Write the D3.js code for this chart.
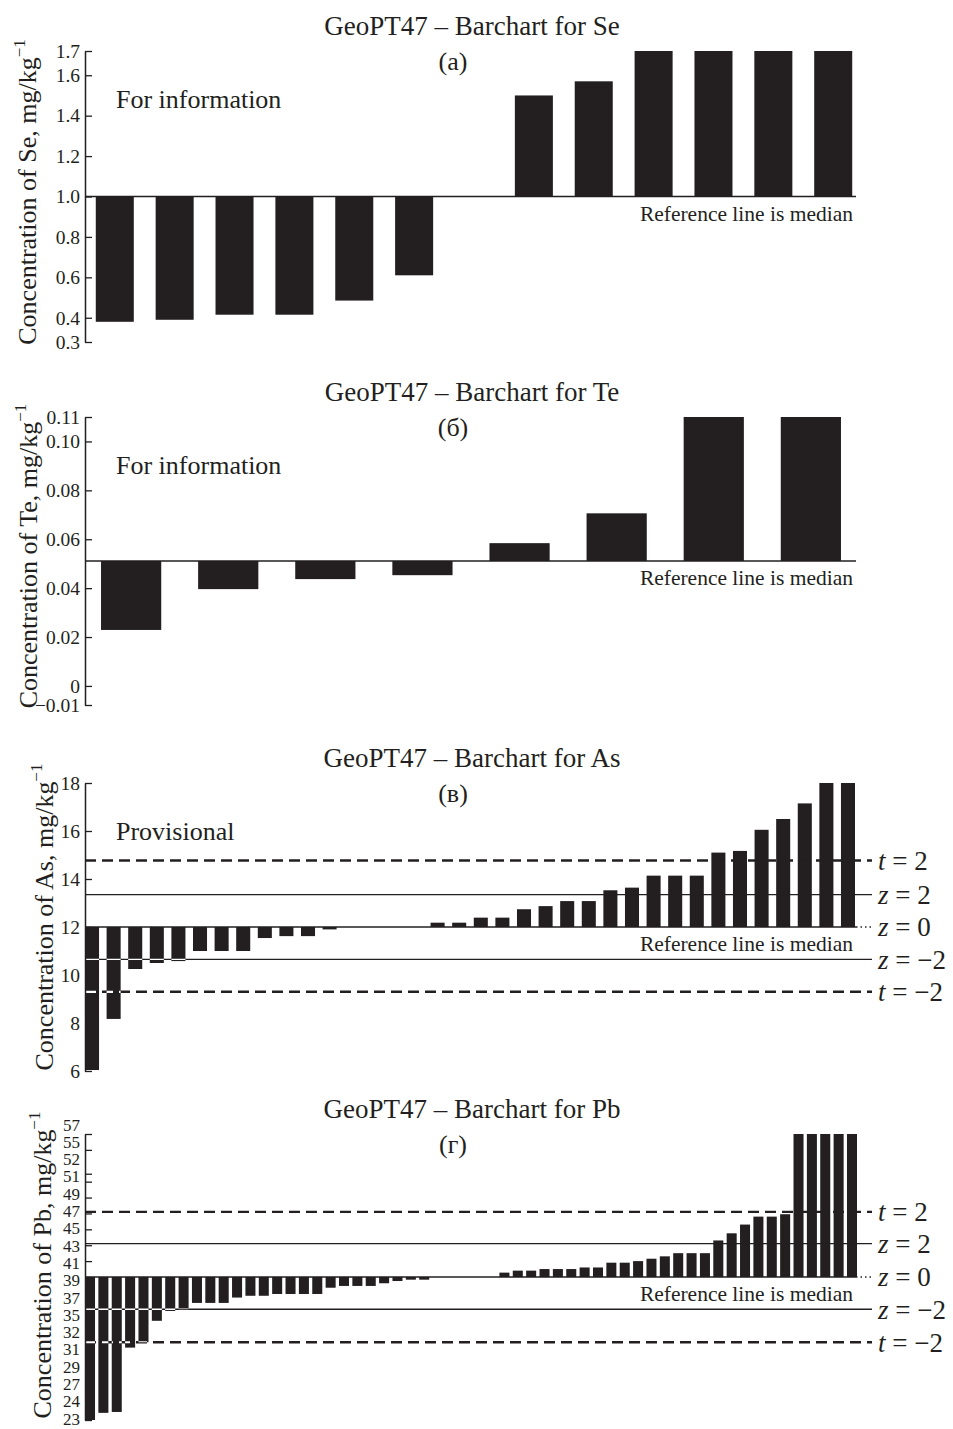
<!DOCTYPE html>
<html>
<head>
<meta charset="utf-8">
<script src="https://cdn.jsdelivr.net/npm/d3@7"></script>
<style>
  html, body { margin: 0; padding: 0; background: #fff; }
  svg { display: block; }
</style>
</head>
<body>
<div class="chart"></div>
<script>
// ---------- data ----------
// Se (a)
const seValues = [0.38, 0.39, 0.415, 0.415, 0.485, 0.61, 1.0, 1.50, 1.57, 1.72, 1.72, 1.72, 1.72];
const seMedian = 1.0;
const seAxis = [0.28, 1.72];
const seTicks = [0.28, 0.4, 0.6, 0.8, 1.0, 1.2, 1.4, 1.6, 1.72];

// Te (б)
const teValues = [0.0229, 0.0396, 0.0437, 0.0453, 0.0584, 0.0706, 0.11, 0.11];
const teMedian = 0.0511;
const teAxis = [-0.0078, 0.11];
const teTicks = [-0.0078, 0, 0.02, 0.04, 0.06, 0.08, 0.10, 0.11];

// As (в)
const asValues = [6.04, 8.17, 10.25, 10.5, 10.58, 11.0, 11.0, 11.0, 11.54, 11.62, 11.62, 11.9,
  12, 12, 12, 12,
  12.18, 12.18, 12.39, 12.39, 12.74, 12.87, 13.08, 13.08, 13.53, 13.64, 14.14, 14.14, 14.14,
  15.1, 15.17, 16.05, 16.5, 17.15, 18, 18];
const asMedian = 12;
const asAxis = [6, 18];
const asTicks = [6, 8, 10, 12, 14, 16, 18];
const asLimits = [14.77, 13.35, 10.65, 9.3];

// Pb (г)
const pbValues = [23.0, 23.8, 23.9, 31.1, 31.7, 34.1, 35.2, 35.4, 36.1, 36.1, 36.1, 36.7, 36.9, 36.9,
  37.1, 37.1, 37.1, 37.1, 37.8, 38.0, 38.0, 38.0, 38.3, 38.55, 38.7, 38.7,
  39, 39, 39, 39, 39,
  39.55, 39.8, 39.8, 40.0, 40.0, 40.0, 40.2, 40.2, 40.8, 40.8, 41.0, 41.3, 41.6, 42.0, 42.0, 42.0,
  43.6, 44.5, 45.6, 46.6, 46.6, 46.9, 57, 57, 57, 57, 57];
const pbMedian = 39;
const pbAxis = [23, 57];
const pbTicks = [57, 55, 52, 51, 49, 47, 45, 43, 41, 39, 37, 35, 32, 31, 29, 27, 24, 23];
const pbLimits = [47.2, 43.2, 35.4, 31.7];

const limitNames = [['t', ' = 2'], ['z', ' = 2'], ['z', ' = \u22122'], ['t', ' = \u22122']];
const limitDashed = [true, false, false, true];

// ---------- drawing ----------
const W = 953, H = 1429;
const ink = '#231f20';
const serif = '"Liberation Serif", "Times New Roman", serif';
const left = 85;

const svg = d3.select('.chart').append('svg').attr('width', W).attr('height', H);
svg.append('rect').attr('width', W).attr('height', H).attr('fill', '#fff');

function drawPanel(p, idx) {
  const g = svg.append('g').attr('font-family', serif).attr('fill', ink);
  const yMid = (p.top + p.bottom) / 2;
  const y = d3.scaleLinear()
    .domain([p.axis[0], p.median, p.axis[1]])
    .range([p.bottom, yMid, p.top])
    .clamp(true);
  const x = d3.scaleBand()
    .domain(d3.range(p.values.length))
    .range([left, p.xEnd])
    .paddingInner(p.padIn)
    .paddingOuter(p.padOut);

  // 제목
  g.append('text')
    .attr('x', 472).attr('y', p.top - 16)
    .attr('text-anchor', 'middle').attr('font-size', 27)
    .text(`GeoPT47 \u2013 Barchart for ${p.el}`);
  g.append('text')
    .attr('x', 453).attr('y', p.top + 19)
    .attr('text-anchor', 'middle').attr('font-size', 26)
    .text(p.sub);
  if (p.note) {
    g.append('text')
      .attr('x', 116).attr('y', p.top + 57)
      .attr('font-size', 26)
      .text(p.note);
  }

  // 막대
  g.append('g').selectAll('rect').data(p.values).join('rect')
    .attr('x', (d, i) => x(i))
    .attr('width', x.bandwidth())
    .attr('y', d => y(Math.max(d, p.median)))
    .attr('height', d => Math.abs(y(d) - y(p.median)))
    .attr('fill', ink);

  // 기준선(중앙값)
  g.append('line')
    .attr('x1', left).attr('x2', 856)
    .attr('y1', y(p.median)).attr('y2', y(p.median))
    .attr('stroke', ink).attr('stroke-width', 1.3);
  g.append('text')
    .attr('x', 853).attr('y', y(p.median) + 24)
    .attr('text-anchor', 'end').attr('font-size', 21.5)
    .text('Reference line is median');

  // z, t 한계선
  if (p.limits) {
    const clipId = `bars-${idx}`;
    svg.append('clipPath').attr('id', clipId)
      .selectAll('rect').data(p.values).join('rect')
      .attr('x', (d, i) => x(i))
      .attr('width', x.bandwidth())
      .attr('y', d => y(Math.max(d, p.median)))
      .attr('height', d => Math.abs(y(d) - y(p.median)));

    g.append('line')
      .attr('x1', 856).attr('x2', 872)
      .attr('y1', y(p.median)).attr('y2', y(p.median))
      .attr('stroke', ink).attr('stroke-width', 1.5)
      .attr('stroke-dasharray', '1.5,3');

    p.limits.forEach((v, i) => {
      g.append('line')
        .attr('x1', left).attr('x2', 872)
        .attr('y1', y(v)).attr('y2', y(v))
        .attr('stroke', ink)
        .attr('stroke-width', limitDashed[i] ? 2.4 : 1.4)
        .attr('stroke-dasharray', limitDashed[i] ? '11,6' : null);
      if (v < p.median) {
        // 음수 막대 위로 지나가는 선은 흰색으로 보임
        g.append('line')
          .attr('clip-path', `url(#${clipId})`)
          .attr('x1', left).attr('x2', 872)
          .attr('y1', y(v)).attr('y2', y(v))
          .attr('stroke', '#fff')
          .attr('stroke-width', limitDashed[i] ? 2.2 : 1.4)
          .attr('stroke-dasharray', limitDashed[i] ? '11,6' : null);
      }
    });
    const labs = [...p.limits, p.median];
    const names = [...limitNames, ['z', ' = 0']];
    labs.forEach((v, i) => {
      const t = g.append('text')
        .attr('x', 878).attr('y', y(v)).attr('dy', '0.35em')
        .attr('font-size', 27);
      t.append('tspan').attr('font-style', 'italic').text(names[i][0]);
      t.append('tspan').text(names[i][1]);
    });
  }

  // y축
  const axis = d3.axisLeft(y)
    .tickValues(p.ticks)
    .tickSize(-7)
    .tickSizeOuter(0)
    .tickPadding(5)
    .tickFormat(p.pointLabels ? '' : p.fmt);
  const ax = g.append('g')
    .attr('transform', `translate(${left},0)`)
    .call(axis)
    .attr('font-family', serif)
    .attr('font-size', 19.5);
  ax.select('.domain').attr('stroke', ink).attr('stroke-width', 1.5);
  ax.selectAll('.tick line').attr('stroke', ink).attr('stroke-width', 1.3);
  ax.selectAll('.tick text').attr('fill', ink);

  if (p.pointLabels) {
    // 겹치는 눈금 글자는 고르게 펼쳐서 표시
    const yl = d3.scalePoint().domain(p.ticks.map(String)).range([p.top - 9, p.bottom - 1]);
    g.append('g').selectAll('text').data(p.ticks).join('text')
      .attr('x', left - 5).attr('y', d => yl(String(d))).attr('dy', '0.33em')
      .attr('text-anchor', 'end').attr('font-size', 17)
      .text(d => d);
  }

  // y축 제목
  const yt = g.append('text')
    .attr('transform', `translate(${p.titleX},${p.titleY}) rotate(-90)`)
    .attr('text-anchor', 'middle')
    .attr('font-size', 26);
  yt.append('tspan').text(`Concentration of ${p.el}, mg/kg`);
  yt.append('tspan').attr('font-size', 17).attr('dy', -11).text('\u22121');
}

const fmtTe = d => d === 0 ? '0' : d3.format('.2f')(d);

const panels = [
  { el: 'Se', sub: '(a)', note: 'For information', values: seValues, median: seMedian, axis: seAxis,
    ticks: seTicks, fmt: d3.format('.1f'), top: 51, bottom: 342, xEnd: 863, padIn: 0.365, padOut: 0.18,
    titleX: 36, titleY: 192 },
  { el: 'Te', sub: '(\u0431)', note: 'For information', values: teValues, median: teMedian, axis: teAxis,
    ticks: teTicks, fmt: fmtTe, top: 417, bottom: 705, xEnd: 857, padIn: 0.38, padOut: 0.165,
    titleX: 37, titleY: 556 },
  { el: 'As', sub: '(\u0432)', note: 'Provisional', values: asValues, median: asMedian, axis: asAxis,
    ticks: asTicks, fmt: d3.format('d'), top: 783, bottom: 1071, xEnd: 855, padIn: 0.35, padOut: 0,
    titleX: 53, titleY: 917, limits: asLimits },
  { el: 'Pb', sub: '(\u0433)', note: null, values: pbValues, median: pbMedian, axis: pbAxis,
    ticks: pbTicks, fmt: d3.format('d'), top: 1134, bottom: 1420, xEnd: 857, padIn: 0.25, padOut: 0,
    titleX: 51, titleY: 1265, limits: pbLimits, pointLabels: true }
];

panels.forEach(drawPanel);
</script>
</body>
</html>
